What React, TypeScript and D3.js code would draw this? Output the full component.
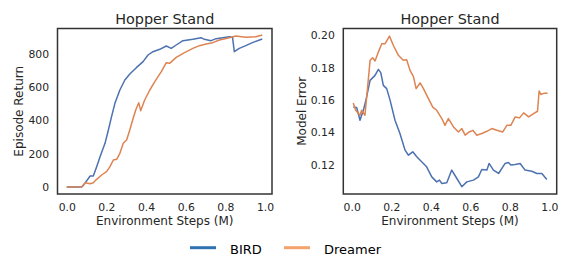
import { useEffect, useRef } from "react";
import * as d3 from "d3";

// Episode return (left panel)
const birdReturnX = [0, 0.075, 0.084, 0.118, 0.134, 0.151, 0.168, 0.193, 0.21, 0.226, 0.243, 0.268, 0.293, 0.318, 0.351, 0.385, 0.41, 0.435, 0.469, 0.502, 0.527, 0.552, 0.586, 0.636, 0.677, 0.694, 0.728, 0.753, 0.82, 0.836, 0.845, 0.87, 0.903, 0.936, 0.986];
const birdReturnY = [0, 0, 10, 66, 66, 122, 182, 262, 342, 422, 502, 582, 642, 678, 716, 752, 792, 812, 826, 846, 832, 852, 878, 886, 896, 886, 878, 890, 902, 898, 812, 832, 848, 866, 888];
const dreamerReturnX = [0, 0.076, 0.093, 0.118, 0.134, 0.151, 0.176, 0.201, 0.218, 0.235, 0.252, 0.268, 0.285, 0.302, 0.318, 0.335, 0.348, 0.363, 0.373, 0.393, 0.419, 0.444, 0.477, 0.502, 0.519, 0.552, 0.594, 0.636, 0.669, 0.703, 0.736, 0.77, 0.82, 0.853, 0.903, 0.953, 0.986];
const dreamerReturnY = [0, 2, 26, 20, 26, 46, 72, 92, 122, 162, 166, 202, 262, 282, 342, 412, 462, 506, 458, 522, 582, 632, 692, 746, 742, 778, 806, 832, 848, 858, 866, 882, 896, 906, 898, 902, 912];

// Model error (right panel)
const birdErrorX = [0.008, 0.025, 0.042, 0.059, 0.072, 0.093, 0.118, 0.135, 0.147, 0.16, 0.177, 0.194, 0.219, 0.244, 0.27, 0.287, 0.309, 0.329, 0.354, 0.379, 0.405, 0.43, 0.444, 0.456, 0.481, 0.506, 0.532, 0.557, 0.582, 0.616, 0.641, 0.658, 0.684, 0.695, 0.717, 0.743, 0.776, 0.793, 0.805, 0.827, 0.852, 0.877, 0.911, 0.937, 0.962, 0.987];
const birdErrorY = [0.1557, 0.1554, 0.1475, 0.1537, 0.16, 0.1722, 0.1753, 0.179, 0.177, 0.1691, 0.1671, 0.16, 0.1475, 0.1393, 0.129, 0.1259, 0.128, 0.1249, 0.1218, 0.1187, 0.1125, 0.1094, 0.1105, 0.1084, 0.1088, 0.1167, 0.1115, 0.1064, 0.1094, 0.1105, 0.1125, 0.1171, 0.1167, 0.1208, 0.1167, 0.1146, 0.1208, 0.1214, 0.1198, 0.1202, 0.1208, 0.1167, 0.116, 0.1146, 0.1146, 0.1109];
const dreamerErrorX = [0.008, 0.02, 0.042, 0.05, 0.067, 0.079, 0.093, 0.106, 0.118, 0.135, 0.152, 0.169, 0.191, 0.211, 0.236, 0.261, 0.278, 0.295, 0.312, 0.326, 0.346, 0.363, 0.388, 0.41, 0.43, 0.456, 0.472, 0.489, 0.515, 0.54, 0.557, 0.574, 0.594, 0.613, 0.633, 0.658, 0.684, 0.709, 0.734, 0.764, 0.785, 0.805, 0.827, 0.849, 0.87, 0.895, 0.92, 0.94, 0.948, 0.957, 0.974, 0.991];
const dreamerErrorY = [0.1582, 0.1537, 0.1506, 0.1537, 0.1506, 0.166, 0.1846, 0.1862, 0.1842, 0.1897, 0.1949, 0.1949, 0.1996, 0.1938, 0.1877, 0.1846, 0.185, 0.1784, 0.1747, 0.1671, 0.1706, 0.1671, 0.1609, 0.1557, 0.1537, 0.1486, 0.1444, 0.1486, 0.1434, 0.1403, 0.1424, 0.1383, 0.1403, 0.1413, 0.1383, 0.1393, 0.1407, 0.1424, 0.1413, 0.1403, 0.1444, 0.1444, 0.1496, 0.149, 0.1521, 0.1496, 0.1516, 0.1531, 0.1656, 0.1635, 0.1643, 0.1643];

const xTicks = [0, 0.2, 0.4, 0.6, 0.8, 1.0];
const returnTicks = [0, 200, 400, 600, 800];
const errorTicks = [0.12, 0.14, 0.16, 0.18, 0.2];

const seriesNames = ["BIRD", "Dreamer"];
const lineColors = ["#4c72b0", "#dd8452"];
const legendColors = ["#3172b2", "#f3a36b"];

const FONT = "DejaVu Sans, sans-serif";
const TEXT = "#262626";

export default function App() {
  const ref = useRef<SVGSVGElement | null>(null);

  useEffect(() => {
    if (!ref.current) return;
    const svg = d3.select(ref.current);
    svg.selectAll("*").remove();

    const top = 28.5;
    const bottom = 194;

    const panels = [
      {
        left: 57.5, right: 272,
        xDomain: [-0.0465, 1.035], yDomain: [-42, 951],
        yTicks: returnTicks, yFmt: (d: number) => String(d),
        ylabel: "Episode Return", ylabelX: 22.5,
        series: [
          birdReturnX.map((x, i) => [x, birdReturnY[i]]),
          dreamerReturnX.map((x, i) => [x, dreamerReturnY[i]]),
        ],
      },
      {
        left: 343.3, right: 556.7,
        xDomain: [-0.0425, 1.037], yDomain: [0.1019, 0.2043],
        yTicks: errorTicks, yFmt: d3.format(".2f"),
        ylabel: "Model Error", ylabelX: 306.4,
        series: [
          birdErrorX.map((x, i) => [x, birdErrorY[i]]),
          dreamerErrorX.map((x, i) => [x, dreamerErrorY[i]]),
        ],
      },
    ];

    panels.forEach((p) => {
      const x = d3.scaleLinear().domain(p.xDomain).range([p.left, p.right]);
      const y = d3.scaleLinear().domain(p.yDomain).range([bottom, top]);
      const g = svg.append("g");

      // x axis
      const xAxis = g.append("g")
        .attr("transform", `translate(0,${bottom})`)
        .call(d3.axisBottom(x).tickValues(xTicks).tickSize(0).tickPadding(9.8).tickFormat(d3.format(".1f")));
      xAxis.select(".domain").remove();
      xAxis.selectAll("text")
        .attr("fill", TEXT).style("font-family", FONT).style("font-size", "10.8px");

      // y axis
      const yAxis = g.append("g")
        .attr("transform", `translate(${p.left},0)`)
        .call(d3.axisLeft(y).tickValues(p.yTicks).tickSize(0).tickPadding(8.5).tickFormat(p.yFmt as any));
      yAxis.select(".domain").remove();
      yAxis.selectAll("text")
        .attr("fill", TEXT).style("font-family", FONT).style("font-size", "10.8px");

      // lines
      const line = d3.line<number[]>().x((d) => x(d[0])).y((d) => y(d[1]));
      p.series.forEach((s, i) => {
        g.append("path")
          .datum(s)
          .attr("fill", "none")
          .attr("stroke", lineColors[i])
          .attr("stroke-width", 1.5)
          .attr("stroke-linejoin", "round")
          .attr("d", line);
      });

      // frame
      g.append("rect")
        .attr("x", p.left).attr("y", top)
        .attr("width", p.right - p.left).attr("height", bottom - top)
        .attr("fill", "none").attr("stroke", "#333333").attr("stroke-width", 1.5);

      // title and labels
      const cx = (p.left + p.right) / 2;
      g.append("text").attr("x", cx).attr("y", 23.5)
        .attr("text-anchor", "middle").attr("fill", TEXT)
        .style("font-family", FONT).style("font-size", "14.4px")
        .text("Hopper Stand");
      g.append("text").attr("x", cx).attr("y", 224.5)
        .attr("text-anchor", "middle").attr("fill", TEXT)
        .style("font-family", FONT).style("font-size", "12px")
        .text("Environment Steps (M)");
      g.append("text")
        .attr("transform", `translate(${p.ylabelX},${(top + bottom) / 2}) rotate(-90)`)
        .attr("text-anchor", "middle").attr("fill", TEXT)
        .style("font-family", FONT).style("font-size", "12px")
        .text(p.ylabel);
    });

    // legend
    const legendX = [190, 284];
    const legend = svg.append("g");
    seriesNames.forEach((name, i) => {
      legend.append("line")
        .attr("x1", legendX[i]).attr("x2", legendX[i] + 26)
        .attr("y1", 247.7).attr("y2", 247.7)
        .attr("stroke", legendColors[i]).attr("stroke-width", 3);
      legend.append("text")
        .attr("x", legendX[i] + 40).attr("y", 253.5)
        .attr("fill", "#000")
        .style("font-family", FONT).style("font-size", "13px")
        .text(name);
    });
  }, []);

  return (
    <svg
      ref={ref}
      width={587}
      height={263}
      style={{ position: "absolute", left: 0, top: 0, background: "#fff" }}
    />
  );
}
